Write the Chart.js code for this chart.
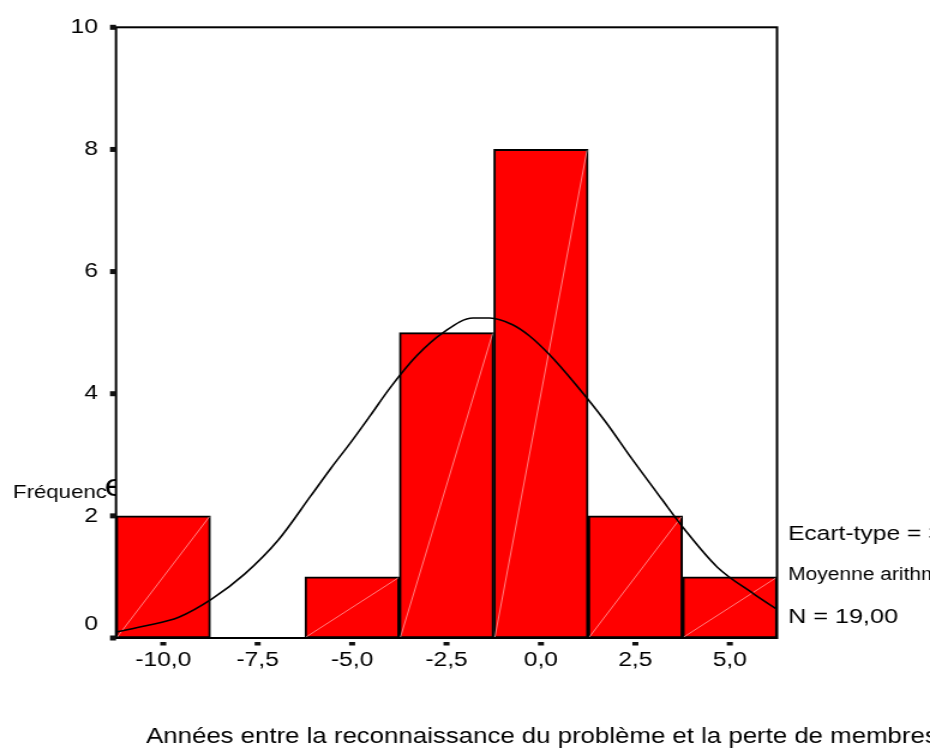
<!DOCTYPE html>
<html><head><meta charset="utf-8">
<script src="https://cdn.jsdelivr.net/npm/chart.js@4"></script>
<style>html,body{margin:0;padding:0;background:#fff;overflow:hidden}</style></head>
<body><canvas id="c" width="775" height="751" style="display:block;width:930px;height:751px"></canvas>
<script>
// ---- data ----
const binCenters = [-10, -7.5, -5, -2.5, 0, 2.5, 5];
const binCounts  = [2, 0, 1, 5, 8, 2, 1];
const xTickValues = [-10, -7.5, -5, -2.5, 0, 2.5, 5];
const xTickLabels = ['-10,0', '-7,5', '-5,0', '-2,5', '0,0', '2,5', '5,0'];
const yTickValues = [0, 2, 4, 6, 8, 10];
const yTickLabels = ['0', '2', '4', '6', '8', '10'];
const curveX = [-11.25, -10.46, -9.59, -8.71, -7.84, -6.96, -6.09, -5.56, -5.04, -4.51, -3.99, -3.29, -2.59, -1.80, -1.36, -0.75, -0.31, 0.21, 0.91, 1.70, 2.40, 3.19, 3.80, 4.67, 5.64, 6.25];
const curveY = [0.10, 0.20, 0.34, 0.64, 1.05, 1.60, 2.33, 2.78, 3.20, 3.65, 4.10, 4.62, 5.00, 5.24, 5.24, 5.13, 4.95, 4.65, 4.16, 3.55, 2.94, 2.28, 1.78, 1.16, 0.72, 0.47];
const statLabels = ['Ecart-type = 3,62', 'Moyenne arithmétique = -1,4', 'N = 19,00'];
const xTitle = 'Années entre la reconnaissance du problème et la perte de membres';
const yTitleA = 'Fréquenc';
const yTitleB = 'e';

// horizontal stretch of the reference picture
const SX = 1.2;
const FONT = "'Liberation Sans', Arial, Helvetica, sans-serif";
Chart.defaults.font.family = FONT;
Chart.defaults.color = '#000';

const barData = binCenters.map((c, i) => ({x: c, y: binCounts[i]}));
const curveData = curveX.map((x, i) => ({x: x, y: curveY[i]}));

const decor = {
  id: 'decor',
  afterDatasetDraw(chart, args) {
    if (args.index !== 1) return;
    const ctx = chart.ctx;
    ctx.save();
    ctx.strokeStyle = 'rgba(255,190,190,0.85)';
    ctx.lineWidth = 0.8;
    args.meta.data.forEach(el => {
      const p = el.getProps(['x', 'y', 'base', 'width'], true);
      if (Math.abs(p.base - p.y) < 1) return;
      ctx.beginPath();
      ctx.moveTo(p.x - p.width / 2 + 1, p.base - 1);
      ctx.lineTo(p.x + p.width / 2 - 1, p.y + 1);
      ctx.stroke();
    });
    ctx.restore();
  },
  afterDraw(chart) {
    const ctx = chart.ctx;
    const a = chart.chartArea;
    const xs = chart.scales.x, ys = chart.scales.y;
    ctx.save();
    // y title (big "e" clipped by the axis)
    ctx.fillStyle = '#000';
    ctx.textAlign = 'left';
    ctx.textBaseline = 'alphabetic';
    ctx.font = '18.5px ' + FONT;
    ctx.fillText(yTitleA, 13 / SX, 498);
    ctx.save();
    ctx.beginPath(); ctx.rect(0, 0, a.left, chart.height); ctx.clip();
    ctx.font = '31px ' + FONT;
    ctx.fillText(yTitleB, 104.5 / SX, 496);
    ctx.restore();
    // frame
    ctx.strokeStyle = '#000';
    ctx.lineWidth = 2;
    ctx.strokeRect(a.left, a.top, a.right - a.left, a.bottom - a.top);
    // tick marks
    ctx.fillStyle = '#111';
    yTickValues.forEach(v => {
      const y = ys.getPixelForValue(v);
      ctx.fillRect(a.left - 5, y - 2.5, 5, 5);
    });
    xTickValues.forEach(v => {
      const x = xs.getPixelForValue(v);
      ctx.fillRect(x - 2.5, a.bottom + 4, 5, 3.5);
    });
    // "0" tick label, drawn a bit higher as in the reference
    ctx.fillStyle = '#000';
    ctx.font = '20.5px ' + FONT;
    ctx.textAlign = 'right';
    ctx.textBaseline = 'middle';
    ctx.fillText(yTickLabels[0], a.left - 15, ys.getPixelForValue(yTickValues[0]) - 14);
    // statistics
    ctx.textAlign = 'left';
    ctx.textBaseline = 'alphabetic';
    const sx = 788 / SX;
    ctx.font = '20.5px ' + FONT; ctx.fillText(statLabels[0], sx, 540);
    ctx.font = '17.5px ' + FONT; ctx.fillText(statLabels[1], sx, 580);
    ctx.font = '21px ' + FONT;   ctx.fillText(statLabels[2], sx, 623);
    // x title
    ctx.font = '21.5px ' + FONT;
    ctx.fillText(xTitle, 146 / SX, 743);
    ctx.restore();
  }
};

new Chart(document.getElementById('c'), {
  data: {
    datasets: [
      {
        type: 'line', data: curveData, order: 0,
        borderColor: '#000', borderWidth: 1.6, pointRadius: 0,
        cubicInterpolationMode: 'monotone', fill: false
      },
      {
        type: 'bar', data: barData, order: 1,
        backgroundColor: '#ff0000', borderColor: '#000', borderWidth: 2,
        borderSkipped: false, barPercentage: 1, categoryPercentage: 1
      }
    ]
  },
  options: {
    responsive: false, animation: false, devicePixelRatio: 1,
    layout: {padding: {top: 26.5, right: 775 - 777 / SX, left: 0, bottom: 0}},
    plugins: {legend: {display: false}, tooltip: {enabled: false}},
    scales: {
      x: {
        type: 'linear', min: -11.25, max: 6.25, offset: false,
        grid: {display: false, drawTicks: false, offset: false}, border: {display: false},
        afterBuildTicks: s => { s.ticks = xTickValues.map(v => ({value: v})); },
        afterFit: s => { s.height = 751 - 638; },
        ticks: {
          autoSkip: false, maxRotation: 0, padding: 10,
          font: {size: 20.5}, color: '#000',
          callback: v => xTickLabels[xTickValues.indexOf(v)]
        }
      },
      y: {
        type: 'linear', min: 0, max: 10,
        grid: {display: false, drawTicks: false}, border: {display: false},
        afterBuildTicks: s => { s.ticks = yTickValues.map(v => ({value: v})); },
        afterFit: s => { s.width = 116 / SX; },
        ticks: {
          padding: 15, font: {size: 20.5}, color: '#000',
          callback: v => v === yTickValues[0] ? '' : yTickLabels[yTickValues.indexOf(v)]
        }
      }
    }
  },
  plugins: [decor]
});
</script>
</body></html>
